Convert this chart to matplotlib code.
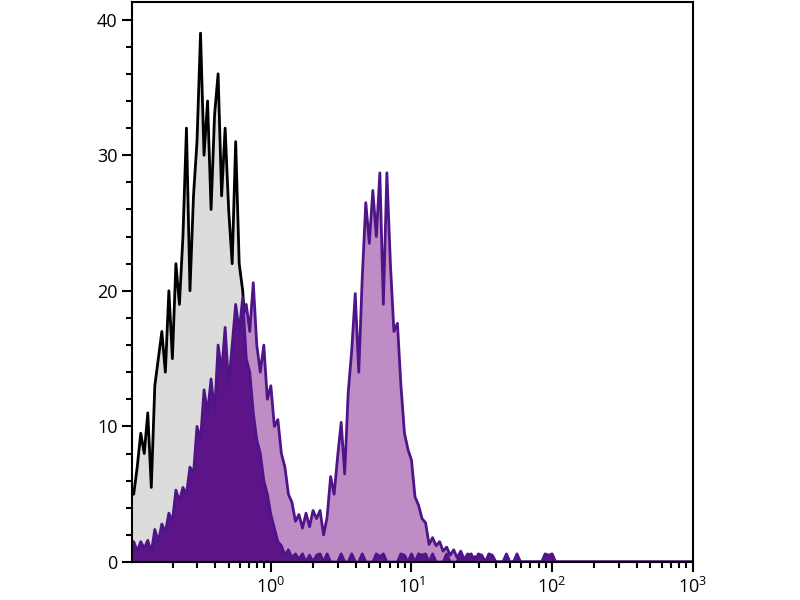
import matplotlib
matplotlib.use("Agg")
import matplotlib.pyplot as plt
import numpy as np
from matplotlib.ticker import LogLocator, MultipleLocator

plt.rcParams['font.family'] = ['Open Sans', 'DejaVu Sans']
plt.rcParams['mathtext.default'] = 'regular'

# channels: 40 per decade from 10^-1 to 10^3
n_chan = 161
channels = np.logspace(-1, 3, n_chan)

# isotype control (grey fill, black outline)
grey_counts = [5.5, 5, 7, 9.5, 8, 11, 5.5, 13, 15, 17, 14, 20, 15, 22, 19, 24,
               32, 20, 27, 31, 39, 30, 34, 26, 33, 36, 27, 32, 26, 22, 31, 22,
               20, 16, 12, 9, 6, 4, 2.5, 1.5, 1, 0.5, 0.2, 0]

# stained sample (light purple, bimodal)
light_counts = [0.8, 1.2, 0.6, 1.0, 0.8, 1.2, 0.5, 1.8, 1.2, 2.2, 1.8, 3.0, 2.5,
                4.2, 3.8, 4.6, 4.2, 6.0, 5.5, 8.5, 8.0, 11.0, 9.5, 12.0, 10.0,
                14.0, 12.5, 15.5, 12.0, 15.0, 17.5, 16.0, 18.0,
                19, 17, 20.6, 16, 14, 16, 12, 13, 10, 10.5, 8, 7, 5, 4.4, 3,
                3.5, 2.5, 3.6, 2.6, 3.8, 3.2, 3.8, 2.0, 3.3,
                6.3, 5.0, 7.8, 10.3, 6.5, 12.5, 15.6, 19.8, 14, 21, 26.5, 23.5,
                27.4, 24, 28.7, 19, 28.7, 22, 17, 17.6, 13, 9.5, 8.3, 7.5, 4.8,
                4.2, 3.2, 2.9, 1.3, 1.8, 1.2, 1.5, 0.8, 1.1, 0.5, 0.9, 0.3, 0.8,
                0.2, 0.6, 0, 0.4, 0]

# negative population (dark purple)
dark_counts = [1, 1.5, 0.8, 1.5, 1, 1.6, 0.7, 2.4, 1.5, 2.8, 2.2, 3.6, 3, 5.3,
               4.5, 5.5, 5, 7, 6.5, 10, 9, 12.7, 11, 13.5, 11, 16, 14, 17.3, 13,
               16, 19, 17, 19.5, 15, 14, 11, 9, 8, 6, 5, 3.5, 2.5, 1.5, 1.2,
               0.5, 0.9, 0.3, 0.6, 0.2, 0.6, 0, 0.5, 0, 0.5, 0.6, 0, 0.6, 0, 0,
               0, 0.6, 0, 0, 0.6, 0, 0, 0.6, 0, 0, 0, 0.6, 0.4, 0.6, 0, 0, 0,
               0, 0.6, 0.5, 0, 0.6, 0, 0.6, 0.5, 0.6, 0, 0.6, 0, 0, 0, 0.6, 0,
               0, 0, 0.6, 0, 0.5, 0.6, 0, 0.6, 0.5, 0, 0.6, 0.5, 0, 0, 0, 0.6,
               0, 0, 0.6, 0, 0, 0, 0, 0, 0, 0, 0.6, 0.5, 0.6, 0]


def pad(vals):
    v = np.array(vals, dtype=float)
    return np.pad(v, (0, n_chan - len(v)))


grey = pad(grey_counts)
light = pad(light_counts)
dark = pad(dark_counts)

fig = plt.figure(figsize=(8, 6), dpi=100)
ax = fig.add_axes([0.165, 0.0633, 0.701, 0.9334])

# each histogram drawn fill then outline, later ones on top
ax.fill_between(channels, 0, grey, color='#dcdcdc', lw=0, zorder=1.0)
ax.plot(channels, grey, color='black', lw=2.0, zorder=1.1)
ax.fill_between(channels, 0, light, color='#bf8cc6', lw=0, zorder=1.2)
ax.plot(channels, light, color='#4f1488', lw=2.0, zorder=1.3)
ax.fill_between(channels, 0, dark, color='#5c1488', lw=0, zorder=1.4)
ax.plot(channels, dark, color='#4f1488', lw=2.0, zorder=1.5)

ax.set_xscale('log')
ax.set_xlim(0.103, 1000)
ax.set_ylim(0, 41.3)

ax.xaxis.set_major_locator(LogLocator(base=10, numticks=10))
ax.xaxis.set_minor_locator(LogLocator(base=10, subs=np.arange(2, 10), numticks=20))
ax.yaxis.set_major_locator(MultipleLocator(10))
ax.yaxis.set_minor_locator(MultipleLocator(2))

for s in ax.spines.values():
    s.set_linewidth(1.5)
    s.set_zorder(3)

ax.tick_params(which='major', direction='out', length=7, width=1.5, labelsize=13)
ax.tick_params(which='minor', direction='out', length=4, width=1.5)
ax.tick_params(axis='x', which='major', pad=4)

fig.savefig('out.png', dpi=100)
